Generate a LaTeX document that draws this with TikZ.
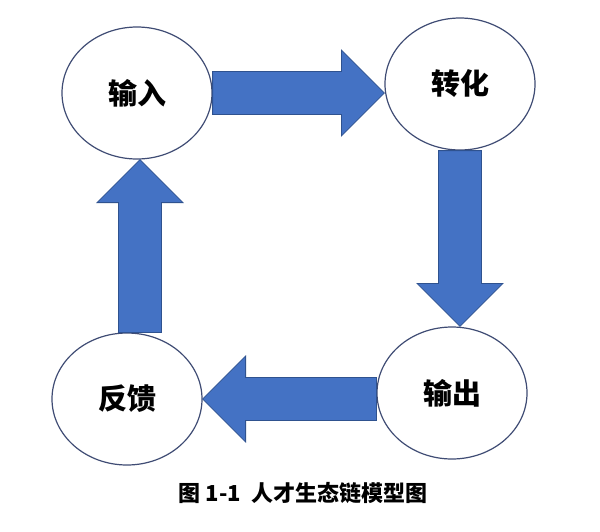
\documentclass[tikz,border=0pt]{standalone}
\usepackage{fontspec}
\newfontfamily\cjk{Noto Sans CJK SC}
\usetikzlibrary{shapes.geometric, calc}
\definecolor{ringline}{HTML}{3F4C74}
\definecolor{flowfill}{HTML}{4472C4}
\definecolor{flowline}{HTML}{2F528F}
\tikzstyle{stage} = [ellipse, minimum width=150pt, minimum height=132pt, inner sep=0pt, draw=ringline, line width=1.2pt, fill=white, font=\cjk\bfseries\fontsize{29}{35}\selectfont]
\tikzstyle{flow} = [fill=flowfill, draw=flowline, line width=0.8pt, line join=miter]
\tikzstyle{caption} = [font=\cjk\bfseries\fontsize{22}{26}\selectfont]
% block arrow from #1 to #2
\newcommand{\flowarrow}[2]{%
  \coordinate (as) at (#1);
  \coordinate (ae) at (#2);
  \coordinate (ab) at ($(ae)!43pt!(as)$);
  \draw [flow] ($(as)!21.5pt!90:(ae)$) -- ($(ab)!21.5pt!90:(ae)$) -- ($(ab)!43pt!90:(ae)$) -- (ae)
    -- ($(ab)!43pt!-90:(ae)$) -- ($(ab)!21.5pt!-90:(ae)$) -- ($(as)!21.5pt!-90:(ae)$) -- cycle;
}

\begin{document}
\begin{tikzpicture}[x=1pt, y=1pt]
\useasboundingbox [fill=white] (0,0) rectangle (600,-531);
\node (in) [stage] at (137,-93) {输入};
\node (conv) [stage] at (460,-84) {转化};
\node (out) [stage] at (452,-393) {输出};
\node (back) [stage] at (127,-399) {反馈};
\flowarrow{in.east}{in.east -| conv.west}
\flowarrow{conv.south}{conv.south |- out.north}
\flowarrow{back.east -| out.west}{back.east}
\flowarrow{[xshift=3pt]back.north -| in.south}{[xshift=3pt]in.south}
\node (cap) [caption] at (303,-493) {图 1-1\ \ 人才生态链模型图};
\end{tikzpicture}
\end{document}
